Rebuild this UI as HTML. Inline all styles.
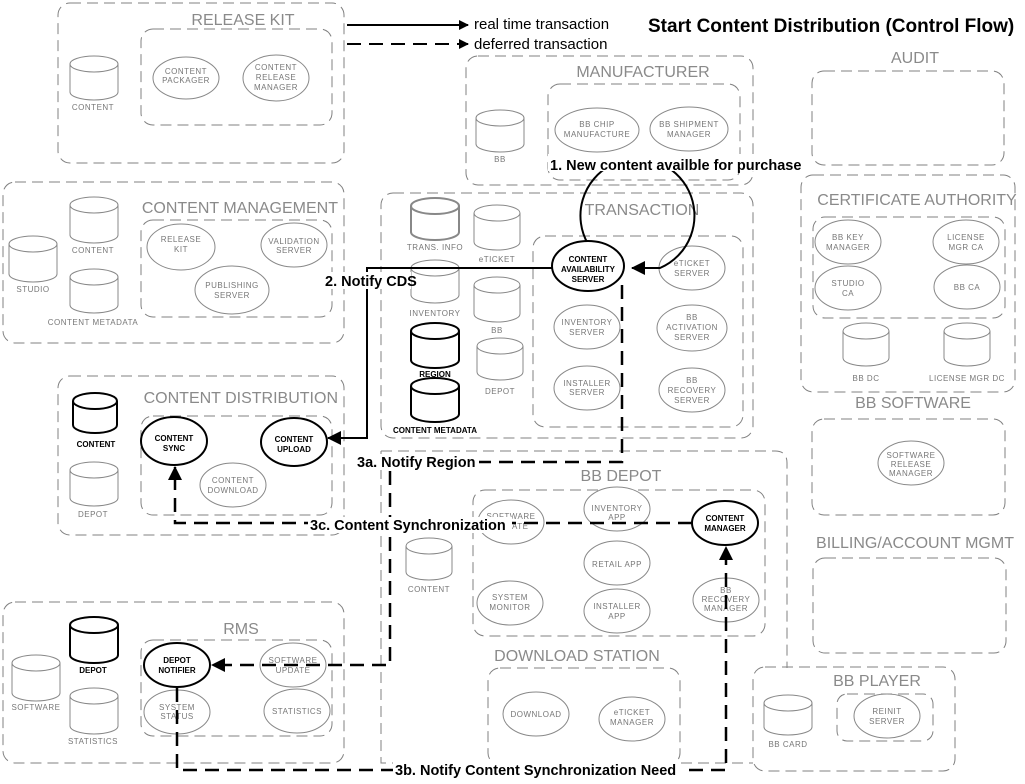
<!DOCTYPE html>
<html><head><meta charset="utf-8"><style>
html,body{margin:0;padding:0;background:#fff}
svg{display:block}
.g{fill:none;stroke:#808080;stroke-width:1;stroke-dasharray:11,6}
.t{font-family:"Liberation Sans",sans-serif;font-size:16px;fill:#8a8a8a;text-anchor:middle}
.tr{font-family:"Liberation Sans",sans-serif;font-size:16px;fill:#8a8a8a;text-anchor:end}
.s{font-family:"Liberation Sans",sans-serif;font-size:8px;fill:#777;text-anchor:middle;letter-spacing:0.5px}
.sb{font-family:"Liberation Sans",sans-serif;font-size:8px;fill:#000;text-anchor:middle;font-weight:bold}
.e{fill:#fff;stroke:#888;stroke-width:1}
.eb{fill:#fff;stroke:#000;stroke-width:2}
.c{fill:#fff;stroke:#888;stroke-width:1}
.cb{fill:#fff;stroke:#000;stroke-width:2}
.lb{font-family:"Liberation Sans",sans-serif;font-size:14.5px;font-weight:bold;fill:#000}
.ln{fill:none;stroke:#000;stroke-width:2}
.dl{fill:none;stroke:#000;stroke-width:2.5;stroke-dasharray:14,8}
</style></head><body>
<svg width="1025" height="784" viewBox="0 0 1025 784" xmlns="http://www.w3.org/2000/svg">
<defs>
<marker id="a" markerWidth="10" markerHeight="10" refX="9" refY="5" orient="auto" markerUnits="userSpaceOnUse"><path d="M0,0 L10,5 L0,10 z" fill="#000"/></marker>
<marker id="a2" markerWidth="14" markerHeight="14" refX="13" refY="7" orient="auto" markerUnits="userSpaceOnUse"><path d="M0,0 L14,7 L0,14 z" fill="#000"/></marker>
</defs>

<!-- RELEASE KIT -->
<rect class="g" x="58" y="3" width="286" height="160" rx="12"/>
<text class="t" x="243" y="25">RELEASE KIT</text>
<rect class="g" x="141" y="29" width="191" height="96" rx="12"/>
<path class="c" d="M70,64 a24,8 0 0,1 48,0 v28 a24,8 0 0,1 -48,0 z M70,64 a24,8 0 0,0 48,0"/>
<text class="s" x="93" y="110">CONTENT</text>
<ellipse class="e" cx="186" cy="78" rx="33" ry="21"/><text class="s" x="186" y="74">CONTENT</text><text class="s" x="186" y="83">PACKAGER</text>
<ellipse class="e" cx="276" cy="78" rx="33" ry="23"/><text class="s" x="276" y="70">CONTENT</text><text class="s" x="276" y="80">RELEASE</text><text class="s" x="276" y="90">MANAGER</text>

<!-- legend -->
<line class="ln" x1="347" y1="25" x2="468" y2="25" marker-end="url(#a)"/>
<line class="ln" x1="347" y1="44" x2="468" y2="44" stroke-dasharray="14,8" marker-end="url(#a)"/>
<text x="474" y="29" style="font-family:'Liberation Sans',sans-serif;font-size:15px;fill:#000">real time transaction</text>
<text x="474" y="49" style="font-family:'Liberation Sans',sans-serif;font-size:15px;fill:#000">deferred transaction</text>
<text x="648" y="32" style="font-family:'Liberation Sans',sans-serif;font-size:19px;font-weight:bold;fill:#000">Start Content Distribution (Control Flow)</text>

<!-- CONTENT MANAGEMENT -->
<rect class="g" x="3" y="182" width="341" height="161" rx="12"/>
<text class="tr" x="338" y="213">CONTENT MANAGEMENT</text>
<rect class="g" x="141" y="220" width="191" height="97" rx="12"/>
<path class="c" d="M70,205 a24,8 0 0,1 48,0 v30 a24,8 0 0,1 -48,0 z M70,205 a24,8 0 0,0 48,0"/>
<text class="s" x="93" y="253">CONTENT</text>
<path class="c" d="M9,244 a24,8 0 0,1 48,0 v30 a24,8 0 0,1 -48,0 z M9,244 a24,8 0 0,0 48,0"/>
<text class="s" x="33" y="292">STUDIO</text>
<path class="c" d="M70,277 a24,8 0 0,1 48,0 v28 a24,8 0 0,1 -48,0 z M70,277 a24,8 0 0,0 48,0"/>
<text class="s" x="93" y="325">CONTENT METADATA</text>
<ellipse class="e" cx="181" cy="247" rx="34" ry="23"/><text class="s" x="181" y="242">RELEASE</text><text class="s" x="181" y="252">KIT</text>
<ellipse class="e" cx="294" cy="245" rx="33" ry="22"/><text class="s" x="294" y="244">VALIDATION</text><text class="s" x="294" y="253">SERVER</text>
<ellipse class="e" cx="232" cy="290" rx="37" ry="24"/><text class="s" x="232" y="288">PUBLISHING</text><text class="s" x="232" y="298">SERVER</text>

<!-- CONTENT DISTRIBUTION -->
<rect class="g" x="58" y="376" width="286" height="159" rx="12"/>
<text class="tr" x="338" y="403">CONTENT DISTRIBUTION</text>
<rect class="g" x="141" y="416" width="191" height="99" rx="12"/>
<path class="cb" d="M73,401 a22,8 0 0,1 44,0 v24 a22,8 0 0,1 -44,0 z M73,401 a22,8 0 0,0 44,0"/>
<text class="sb" x="96" y="447">CONTENT</text>
<path class="c" d="M70,470 a24,8 0 0,1 48,0 v28 a24,8 0 0,1 -48,0 z M70,470 a24,8 0 0,0 48,0"/>
<text class="s" x="93" y="517">DEPOT</text>
<ellipse class="eb" cx="174" cy="441" rx="33" ry="24"/><text class="sb" x="174" y="441">CONTENT</text><text class="sb" x="174" y="451">SYNC</text>
<ellipse class="eb" cx="294" cy="442" rx="33" ry="24"/><text class="sb" x="294" y="442">CONTENT</text><text class="sb" x="294" y="452">UPLOAD</text>
<ellipse class="e" cx="233" cy="485" rx="33" ry="22"/><text class="s" x="233" y="483">CONTENT</text><text class="s" x="233" y="493">DOWNLOAD</text>

<!-- RMS -->
<rect class="g" x="3" y="602" width="341" height="161" rx="12"/>
<text class="t" x="241" y="634">RMS</text>
<rect class="g" x="141" y="640" width="191" height="96" rx="12"/>
<path class="cb" d="M70,625 a24,8 0 0,1 48,0 v30 a24,8 0 0,1 -48,0 z M70,625 a24,8 0 0,0 48,0"/>
<text class="sb" x="93" y="673">DEPOT</text>
<path class="c" d="M12,663 a24,8 0 0,1 48,0 v30 a24,8 0 0,1 -48,0 z M12,663 a24,8 0 0,0 48,0"/>
<text class="s" x="36" y="710">SOFTWARE</text>
<path class="c" d="M70,696 a24,8 0 0,1 48,0 v30 a24,8 0 0,1 -48,0 z M70,696 a24,8 0 0,0 48,0"/>
<text class="s" x="93" y="744">STATISTICS</text>
<ellipse class="e" cx="293" cy="665" rx="33" ry="22"/><text class="s" x="293" y="663">SOFTWARE</text><text class="s" x="293" y="673">UPDATE</text>
<ellipse class="e" cx="177" cy="712" rx="33" ry="22"/><text class="s" x="177" y="710">SYSTEM</text><text class="s" x="177" y="719">STATUS</text>
<ellipse class="e" cx="297" cy="711" rx="33" ry="22"/><text class="s" x="297" y="714">STATISTICS</text>
<ellipse class="eb" cx="177" cy="665" rx="33" ry="22"/><text class="sb" x="177" y="663">DEPOT</text><text class="sb" x="177" y="673">NOTIFIER</text>

<!-- MANUFACTURER -->
<rect class="g" x="466" y="56" width="287" height="129" rx="12"/>
<text class="t" x="643" y="77">MANUFACTURER</text>
<rect class="g" x="548" y="84" width="192" height="96" rx="12"/>
<path class="c" d="M476,118 a24,8 0 0,1 48,0 v26 a24,8 0 0,1 -48,0 z M476,118 a24,8 0 0,0 48,0"/>
<text class="s" x="500" y="162">BB</text>
<ellipse class="e" cx="597" cy="130" rx="42" ry="22"/><text class="s" x="597" y="127">BB CHIP</text><text class="s" x="597" y="137">MANUFACTURE</text>
<ellipse class="e" cx="689" cy="129" rx="39" ry="22"/><text class="s" x="689" y="127">BB SHIPMENT</text><text class="s" x="689" y="137">MANAGER</text>

<!-- AUDIT / CA / BB SOFTWARE / BILLING -->
<text class="t" x="915" y="63">AUDIT</text>
<rect class="g" x="812" y="71" width="192" height="94" rx="12"/>
<rect class="g" x="801" y="175" width="214" height="217" rx="12"/>
<text class="t" x="917" y="205">CERTIFICATE AUTHORITY</text>
<rect class="g" x="813" y="217" width="192" height="101" rx="12"/>
<ellipse class="e" cx="848" cy="242" rx="33" ry="22"/><text class="s" x="848" y="240">BB KEY</text><text class="s" x="848" y="250">MANAGER</text>
<ellipse class="e" cx="966" cy="242" rx="33" ry="22"/><text class="s" x="966" y="240">LICENSE</text><text class="s" x="966" y="250">MGR CA</text>
<ellipse class="e" cx="848" cy="288" rx="33" ry="22"/><text class="s" x="848" y="286">STUDIO</text><text class="s" x="848" y="296">CA</text>
<ellipse class="e" cx="967" cy="287" rx="33" ry="22"/><text class="s" x="967" y="290">BB CA</text>
<path class="c" d="M843,331 a23,8 0 0,1 46,0 v27 a23,8 0 0,1 -46,0 z M843,331 a23,8 0 0,0 46,0"/>
<text class="s" x="866" y="381">BB DC</text>
<path class="c" d="M944,331 a23,8 0 0,1 46,0 v27 a23,8 0 0,1 -46,0 z M944,331 a23,8 0 0,0 46,0"/>
<text class="s" x="967" y="381">LICENSE MGR DC</text>
<text class="t" x="913" y="408">BB SOFTWARE</text>
<rect class="g" x="812" y="419" width="193" height="96" rx="12"/>
<ellipse class="e" cx="911" cy="463" rx="33" ry="22"/><text class="s" x="911" y="458">SOFTWARE</text><text class="s" x="911" y="467">RELEASE</text><text class="s" x="911" y="476">MANAGER</text>
<text class="t" x="915" y="548">BILLING/ACCOUNT MGMT</text>
<rect class="g" x="813" y="558" width="193" height="95" rx="12"/>

<!-- BB PLAYER -->
<rect class="g" x="753" y="667" width="202" height="104" rx="12"/>
<text class="t" x="877" y="686">BB PLAYER</text>
<rect class="g" x="837" y="694" width="96" height="47" rx="10"/>
<ellipse class="e" cx="887" cy="716" rx="33" ry="22"/><text class="s" x="887" y="714">REINIT</text><text class="s" x="887" y="724">SERVER</text>
<path class="c" d="M764,703 a24,8 0 0,1 48,0 v24 a24,8 0 0,1 -48,0 z M764,703 a24,8 0 0,0 48,0"/>
<text class="s" x="788" y="747">BB CARD</text>

<!-- BB DEPOT -->
<path class="g" d="M381,451 L775,451 Q787,451 787,463 L787,668 M381,451 L381,763 L753,763"/>
<text class="t" x="621" y="481">BB DEPOT</text>
<rect class="g" x="473" y="490" width="292" height="146" rx="12"/>
<path class="c" d="M406,546 a23,8 0 0,1 46,0 v26 a23,8 0 0,1 -46,0 z M406,546 a23,8 0 0,0 46,0"/>
<text class="s" x="429" y="592">CONTENT</text>
<ellipse class="e" cx="511" cy="522" rx="33" ry="22"/><text class="s" x="511" y="519">SOFTWARE</text><text class="s" x="511" y="529">UPDATE</text>
<ellipse class="e" cx="617" cy="509" rx="33" ry="22"/><text class="s" x="617" y="511">INVENTORY</text><text class="s" x="617" y="520">APP</text>
<ellipse class="e" cx="617" cy="563" rx="33" ry="22"/><text class="s" x="617" y="567">RETAIL APP</text>
<ellipse class="e" cx="510" cy="603" rx="33" ry="22"/><text class="s" x="510" y="600">SYSTEM</text><text class="s" x="510" y="610">MONITOR</text>
<ellipse class="e" cx="617" cy="611" rx="33" ry="22"/><text class="s" x="617" y="609">INSTALLER</text><text class="s" x="617" y="619">APP</text>
<ellipse class="e" cx="726" cy="600" rx="33" ry="22"/><text class="s" x="726" y="593">BB</text><text class="s" x="726" y="602">RECOVERY</text><text class="s" x="726" y="611">MANAGER</text>
<text class="t" x="577" y="661">DOWNLOAD STATION</text>
<rect class="g" x="488" y="668" width="192" height="97" rx="12"/>
<ellipse class="e" cx="536" cy="714" rx="33" ry="22"/><text class="s" x="536" y="717">DOWNLOAD</text>
<ellipse class="e" cx="632" cy="719" rx="33" ry="22"/><text class="s" x="632" y="715">eTICKET</text><text class="s" x="632" y="725">MANAGER</text>

<!-- TRANSACTION -->
<rect class="g" x="381" y="193" width="372" height="245" rx="12"/>
<text class="t" x="642" y="215">TRANSACTION</text>
<rect class="g" x="533" y="236" width="210" height="191" rx="12"/>
<path d="M411,206 a24,8 0 0,1 48,0 v26 a24,8 0 0,1 -48,0 z M411,206 a24,8 0 0,0 48,0" fill="#fff" stroke="#888" stroke-width="2"/>
<text class="s" x="435" y="250">TRANS. INFO</text>
<path class="c" d="M474,213 a23,8 0 0,1 46,0 v29 a23,8 0 0,1 -46,0 z M474,213 a23,8 0 0,0 46,0"/>
<text class="s" x="497" y="262">eTICKET</text>
<path class="c" d="M411,268 a24,8 0 0,1 48,0 v27 a24,8 0 0,1 -48,0 z M411,268 a24,8 0 0,0 48,0"/>
<text class="s" x="435" y="316">INVENTORY</text>
<path class="c" d="M474,285 a23,8 0 0,1 46,0 v29 a23,8 0 0,1 -46,0 z M474,285 a23,8 0 0,0 46,0"/>
<text class="s" x="497" y="333">BB</text>
<path class="cb" d="M411,331 a24,8 0 0,1 48,0 v29 a24,8 0 0,1 -48,0 z M411,331 a24,8 0 0,0 48,0"/>
<text class="sb" x="435" y="377">REGION</text>
<path class="c" d="M477,346 a23,8 0 0,1 46,0 v26 a23,8 0 0,1 -46,0 z M477,346 a23,8 0 0,0 46,0"/>
<text class="s" x="500" y="394">DEPOT</text>
<path class="cb" d="M411,386 a24,8 0 0,1 48,0 v28 a24,8 0 0,1 -48,0 z M411,386 a24,8 0 0,0 48,0"/>
<text class="sb" x="435" y="433">CONTENT METADATA</text>
<ellipse class="e" cx="587" cy="327" rx="33" ry="22"/><text class="s" x="587" y="325">INVENTORY</text><text class="s" x="587" y="335">SERVER</text>
<ellipse class="e" cx="587" cy="388" rx="33" ry="22"/><text class="s" x="587" y="386">INSTALLER</text><text class="s" x="587" y="395">SERVER</text>
<ellipse class="e" cx="692" cy="268" rx="33" ry="22"/><text class="s" x="692" y="266">eTICKET</text><text class="s" x="692" y="276">SERVER</text>
<ellipse class="e" cx="692" cy="328" rx="35" ry="23"/><text class="s" x="692" y="320">BB</text><text class="s" x="692" y="330">ACTIVATION</text><text class="s" x="692" y="340">SERVER</text>
<ellipse class="e" cx="692" cy="390" rx="33" ry="22"/><text class="s" x="692" y="383">BB</text><text class="s" x="692" y="393">RECOVERY</text><text class="s" x="692" y="403">SERVER</text>

<!-- connectors -->
<path class="ln" d="M588,244 A57,57 0 1,1 660,268 L632,268" marker-end="url(#a2)"/>
<path class="ln" d="M552,268 L367,268 L367,438 L328,438" marker-end="url(#a2)"/>
<path class="dl" d="M622,285 L622,462 L390,462 L390,665 L212,665" marker-end="url(#a2)"/>
<path class="dl" d="M177,688 L177,770 L726,770 L726,547" marker-end="url(#a2)"/>
<path class="dl" d="M692,523 L175,523 L175,467" marker-end="url(#a2)"/>

<ellipse class="eb" cx="588" cy="266" rx="36" ry="25"/><text class="sb" x="588" y="262">CONTENT</text><text class="sb" x="588" y="272">AVAILABILITY</text><text class="sb" x="588" y="282">SERVER</text>
<ellipse class="eb" cx="725" cy="523" rx="33" ry="22"/><text class="sb" x="725" y="521">CONTENT</text><text class="sb" x="725" y="531">MANAGER</text>

<!-- connector labels -->
<rect x="548" y="154" width="260" height="17" fill="#fff"/>
<text class="lb" x="550" y="170">1. New content availble for purchase</text>
<rect x="323" y="272" width="88" height="17" fill="#fff"/>
<text class="lb" x="325" y="286">2. Notify CDS</text>
<rect x="355" y="454" width="124" height="16" fill="#fff"/>
<text class="lb" x="357" y="467">3a. Notify Region</text>
<rect x="308" y="517" width="204" height="16" fill="#fff"/>
<text class="lb" x="310" y="530">3c. Content Synchronization</text>
<rect x="393" y="762" width="288" height="16" fill="#fff"/>
<text class="lb" x="395" y="775">3b. Notify Content Synchronization Need</text>
</svg>
</body></html>
